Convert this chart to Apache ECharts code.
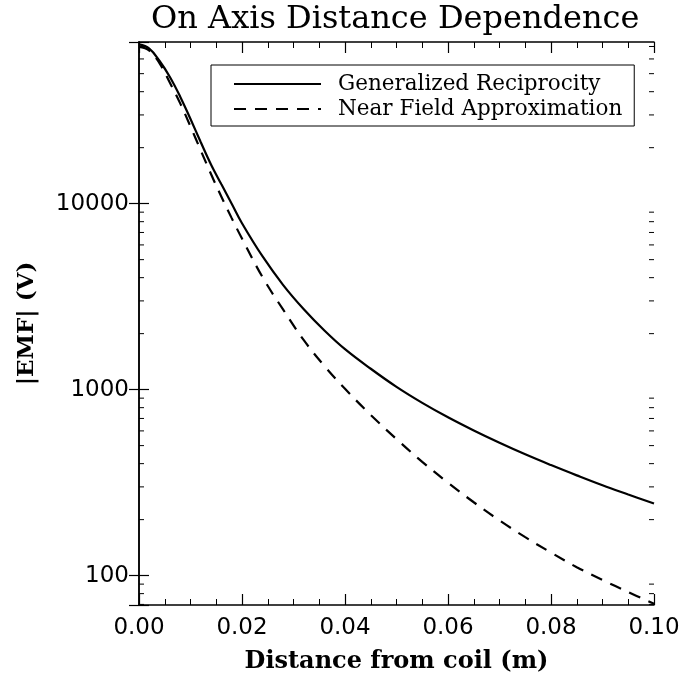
<!DOCTYPE html>
<html lang="en">
<head>
    <meta charset="UTF-8">
    <title>On Axis Distance Dependence</title>
    <style>
        html, body { margin: 0; padding: 0; background-color: #fff; }
        #chart { width: 696px; height: 679px; }
    </style>
</head>
<body>
<div id="chart"></div>
<script src="https://cdn.jsdelivr.net/npm/echarts@6/dist/echarts.min.js"></script>
<script>
    // distance from coil (m)
    var distance = [0, 0.002, 0.004, 0.006, 0.008, 0.010, 0.012, 0.014, 0.016, 0.018, 0.020,
        0.024, 0.028, 0.032, 0.036, 0.040, 0.045, 0.050, 0.055, 0.060, 0.065, 0.070,
        0.075, 0.080, 0.085, 0.090, 0.095, 0.100];
    // |EMF| (V)
    var generalized = [71800, 68200, 58500, 48000, 37600, 28500, 21400, 16200, 12700, 10000, 7850,
        5200, 3650, 2705, 2080, 1650, 1295, 1035, 849, 710, 603, 518,
        449, 393, 346, 306, 273, 244];
    var nearField = [69600, 66500, 56800, 44700, 34600, 26000, 19300, 14390, 10890, 8360, 6490,
        4020, 2690, 1845, 1340, 1010, 731, 542, 409, 316, 248, 198,
        161, 133, 111, 94.8, 81.5, 70.6];
    var yLabels = [100, 1000, 10000];
    var yMinor = [70, 80, 90, 200, 300, 400, 500, 600, 700, 800, 900,
        2000, 3000, 4000, 5000, 6000, 7000, 8000, 9000,
        20000, 30000, 40000, 50000, 60000, 70000];

    var serif = 'DejaVu Serif';
    var sans = 'DejaVu Sans';
    var lineBlack = { color: '#000', width: 1.5 };

    function pairs(ys) {
        return distance.map(function (x, i) { return [x, ys[i]]; });
    }

    var chart = echarts.init(document.getElementById('chart'));

    var option = {
        backgroundColor: '#fff',
        animation: false,
        title: {
            text: 'On Axis Distance Dependence',
            left: 148,
            top: 1,
            padding: 3,
            textStyle: { fontFamily: serif, fontSize: 32, fontWeight: 'normal', color: '#000' }
        },
        legend: {
            data: ['Generalized Reciprocity', 'Near Field Approximation'],
            orient: 'vertical',
            left: 211,
            top: 65,
            padding: [8, 12, 6, 22],
            itemGap: 3,
            itemWidth: 87,
            itemHeight: 14,
            borderColor: '#000',
            borderWidth: 1,
            backgroundColor: '#fff',
            itemStyle: { opacity: 0 },
            textStyle: { fontFamily: serif, fontSize: 21.5, lineHeight: 21, color: '#000', padding: [0, 0, 0, 12] }
        },
        grid: { left: 139, right: 42, top: 42, bottom: 74 },
        xAxis: [{
            type: 'value',
            min: 0,
            max: 0.1,
            interval: 0.02,
            name: 'Distance from coil (m)',
            nameLocation: 'middle',
            nameGap: 45,
            nameTextStyle: { fontFamily: serif, fontSize: 24, fontWeight: 'bold', color: '#000' },
            axisLine: { lineStyle: lineBlack },
            axisTick: { inside: true, length: 11, lineStyle: { color: '#000', width: 1.2 } },
            minorTick: { show: true, splitNumber: 4, length: 6, lineStyle: { color: '#000', width: 1 } },
            splitLine: { show: false },
            axisLabel: {
                margin: 12,
                fontFamily: sans, fontSize: 23, color: '#000',
                formatter: function (v) { return v.toFixed(2); }
            }
        }, {
            type: 'value',
            position: 'top',
            min: 0,
            max: 0.1,
            interval: 0.02,
            axisLine: { lineStyle: lineBlack },
            axisTick: { inside: true, length: 11, lineStyle: { color: '#000', width: 1.2 } },
            minorTick: { show: true, splitNumber: 4, length: 6, lineStyle: { color: '#000', width: 1 } },
            splitLine: { show: false },
            axisLabel: { show: false }
        }],
        yAxis: [{
            type: 'log',
            logBase: 10,
            min: 69.5,
            max: 74000,
            name: '|EMF| (V)',
            nameLocation: 'middle',
            nameGap: 100,
            nameTextStyle: { fontFamily: serif, fontSize: 23, fontWeight: 'bold', color: '#000' },
            axisLine: { lineStyle: lineBlack },
            axisTick: { inside: true, length: 10, lineStyle: { color: '#000', width: 1.2 } },
            splitLine: { show: false },
            axisLabel: {
                margin: 10,
                fontFamily: sans, fontSize: 23, color: '#000',
                formatter: function (v) {
                    var r = Math.round(v);
                    return yLabels.indexOf(r) >= 0 ? String(r) : '';
                }
            }
        }, {
            type: 'log',
            logBase: 10,
            position: 'right',
            min: 69.5,
            max: 74000,
            axisLine: { lineStyle: lineBlack },
            axisTick: { inside: true, length: 10, lineStyle: { color: '#000', width: 1.2 } },
            splitLine: { show: false },
            axisLabel: { show: false }
        }],
        series: [{
            name: 'Generalized Reciprocity',
            type: 'line',
            data: pairs(generalized),
            smooth: 0.4,
            symbol: 'none',
            lineStyle: { color: '#000', width: 2.2, type: 'solid' },
            itemStyle: { color: '#000' }
        }, {
            name: 'Near Field Approximation',
            type: 'line',
            data: pairs(nearField),
            smooth: 0.4,
            symbol: 'none',
            lineStyle: { color: '#000', width: 2.2, type: [12, 9] },
            itemStyle: { color: '#000' }
        }, {
            // minor log ticks on both sides
            name: 'minor',
            type: 'custom',
            silent: true,
            data: yMinor.map(function (v) { return [0, v]; }),
            encode: { x: 0, y: 1 },
            renderItem: function (params, api) {
                var v = api.value(1);
                var p0 = api.coord([0, v]);
                var p1 = api.coord([0.1, v]);
                return {
                    type: 'group',
                    children: [{
                        type: 'line',
                        shape: { x1: p0[0], y1: p0[1], x2: p0[0] + 5, y2: p0[1] },
                        style: { stroke: '#000', lineWidth: 1 }
                    }, {
                        type: 'line',
                        shape: { x1: p1[0] - 5, y1: p1[1], x2: p1[0], y2: p1[1] },
                        style: { stroke: '#000', lineWidth: 1 }
                    }]
                };
            }
        }]
    };
    chart.setOption(option);
</script>
</body>
</html>
